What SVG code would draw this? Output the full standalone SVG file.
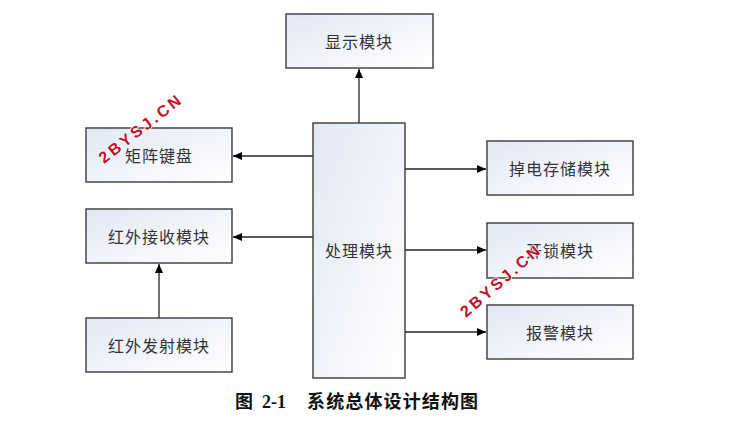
<svg xmlns="http://www.w3.org/2000/svg" width="735" height="428" viewBox="0 0 735 428">
<style>
.box{fill:url(#g);stroke:#3a3a3a;stroke-width:1.4}
.lbl{font-family:"Noto Sans CJK SC","Noto Sans",sans-serif;font-size:16px;fill:#333;text-anchor:middle;dominant-baseline:central;letter-spacing:1px}
.ln{stroke:#222;stroke-width:1.3;fill:none;marker-end:url(#a)}
.wm{font-family:"Liberation Sans",Arial,sans-serif;font-weight:bold;font-size:16px;fill:#c0102a;letter-spacing:3px;stroke:#fff;stroke-width:1.5;paint-order:stroke}
.cap{font-family:"Liberation Serif","Noto Sans CJK SC",serif;font-weight:bold;font-size:18px;fill:#111}
</style>
<defs>
<linearGradient id="g" x1="0" y1="0" x2="1" y2="1">
<stop offset="0" stop-color="#e2e8f4"/>
<stop offset="1" stop-color="#ffffff"/>
</linearGradient>
<marker id="a" markerWidth="10" markerHeight="10" refX="9" refY="5" orient="auto" markerUnits="userSpaceOnUse">
<path d="M0,1 L9,5 L0,9 Z" fill="#000"/>
</marker>
</defs>
<rect width="735" height="428" fill="#fff"/>
<g id="connectors">
<line class="ln" x1="359" y1="123" x2="359" y2="69"/>
<line class="ln" x1="313" y1="156" x2="233" y2="156"/>
<line class="ln" x1="313" y1="237" x2="233" y2="237"/>
<line class="ln" x1="405" y1="169" x2="486" y2="169"/>
<line class="ln" x1="405" y1="250" x2="486" y2="250"/>
<line class="ln" x1="405" y1="332" x2="486" y2="332"/>
<line class="ln" x1="159" y1="318" x2="159" y2="264"/>
</g>
<g id="display"><rect class="box" x="286" y="14" width="147" height="54"/><text class="lbl" x="359" y="41">显示模块</text></g>
<g id="cpu"><rect class="box" x="313" y="123" width="92" height="255"/><text class="lbl" x="359" y="250">处理模块</text></g>
<g id="keypad"><rect class="box" x="86" y="128" width="146" height="54"/><text class="lbl" x="159" y="155">矩阵键盘</text></g>
<g id="irrx"><rect class="box" x="86" y="209" width="146" height="54"/><text class="lbl" x="159" y="236">红外接收模块</text></g>
<g id="irtx"><rect class="box" x="86" y="318" width="146" height="54"/><text class="lbl" x="159" y="345">红外发射模块</text></g>
<g id="eeprom"><rect class="box" x="487" y="141" width="146" height="54"/><text class="lbl" x="560" y="168">掉电存储模块</text></g>
<g id="unlock"><rect class="box" x="487" y="223" width="146" height="55"/><text class="lbl" x="560" y="250">开锁模块</text></g>
<g id="alarm"><rect class="box" x="487" y="305" width="146" height="54"/><text class="lbl" x="560" y="332">报警模块</text></g>
<text class="wm" transform="translate(104,164) rotate(-38)">2BYSJ.CN</text>
<text class="wm" transform="translate(466,318) rotate(-41)">2BYSJ.CN</text>
<text class="cap" y="408"><tspan x="235">图</tspan><tspan x="262">2-1</tspan><tspan x="307" textLength="171" lengthAdjust="spacing">系统总体设计结构图</tspan></text>
</svg>
